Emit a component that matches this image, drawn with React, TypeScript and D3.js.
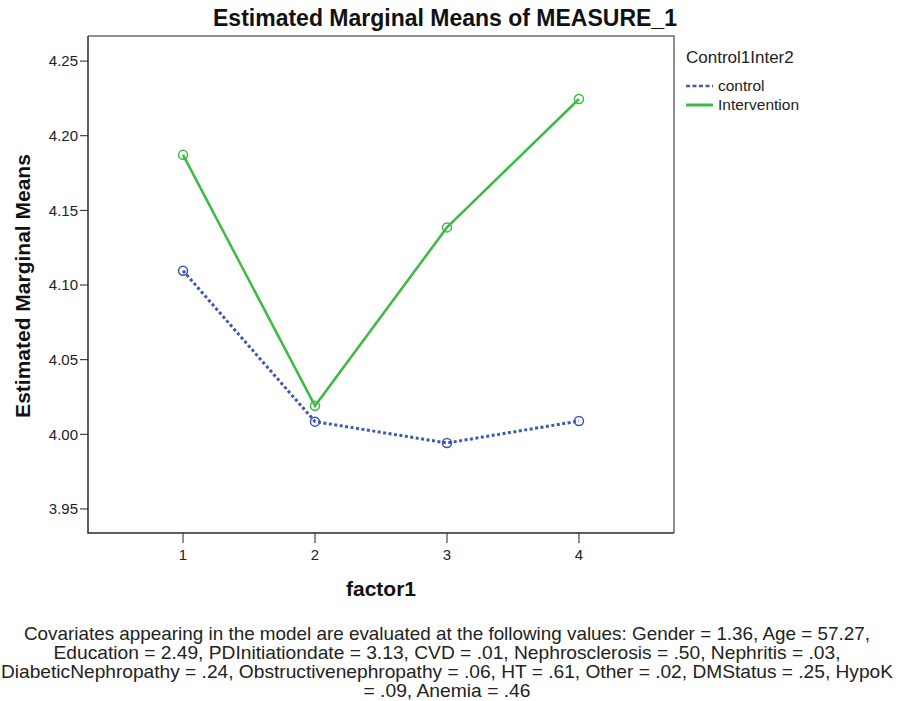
import React, { useEffect, useRef } from 'react';
import * as d3 from 'd3';

const factorLevels = [1, 2, 3, 4];
const controlMeans = [4.1096, 4.0085, 3.9942, 4.0089];
const interventionMeans = [4.1872, 4.0191, 4.1386, 4.2246];
const yTicks = [3.95, 4.0, 4.05, 4.1, 4.15, 4.2, 4.25];

const seriesNames = ['control', 'Intervention'];
const seriesColors = ['#3e58ac', '#3dba41'];

const footnote = [
  'Covariates appearing in the model are evaluated at the following values: Gender = 1.36, Age = 57.27,',
  'Education = 2.49, PDInitiationdate = 3.13, CVD = .01, Nephrosclerosis = .50, Nephritis = .03,',
  'DiabeticNephropathy = .24, Obstructivenephropathy = .06, HT = .61, Other = .02, DMStatus = .25, HypoK',
  '= .09, Anemia = .46',
];
// measured line widths of the footnote in the reference (narrow font)
const footnoteWidths = [846, 787, 892, 167];

export default function App() {
  const svgRef = useRef<SVGSVGElement>(null);

  useEffect(() => {
    if (!svgRef.current) return;
    const svg = d3.select(svgRef.current);
    svg.selectAll('*').remove();

    const width = 898;
    const height = 701;
    const plot = { left: 88, top: 36, right: 674, bottom: 533 };
    const font = 'Arial, "Liberation Sans", sans-serif';

    svg.attr('width', width).attr('height', height);

    const x = d3.scaleLinear().domain([0.28, 4.72]).range([plot.left, plot.right]);
    const y = d3.scaleLinear().domain([3.9339, 4.2668]).range([plot.bottom, plot.top]);

    // frame: top and right grey, left and bottom dark
    svg.append('path')
      .attr('d', `M${plot.left},${plot.top}H${plot.right}V${plot.bottom}`)
      .attr('fill', 'none')
      .attr('stroke', '#6b6b6b')
      .attr('stroke-width', 1.5);
    svg.append('path')
      .attr('d', `M${plot.left},${plot.top}V${plot.bottom}H${plot.right}`)
      .attr('fill', 'none')
      .attr('stroke', '#2a2a2a')
      .attr('stroke-width', 1.5);

    // y axis ticks
    const yAxis = svg.append('g');
    yTicks.forEach(t => {
      yAxis.append('line')
        .attr('x1', plot.left - 8).attr('x2', plot.left)
        .attr('y1', y(t)).attr('y2', y(t))
        .attr('stroke', '#222').attr('stroke-width', 1);
      yAxis.append('text')
        .attr('x', plot.left - 10).attr('y', y(t))
        .attr('dy', '0.35em')
        .attr('text-anchor', 'end')
        .attr('font-family', font).attr('font-size', 15)
        .attr('fill', '#222')
        .text(d3.format('.2f')(t));
    });

    // x axis ticks
    const xAxis = svg.append('g');
    factorLevels.forEach(v => {
      xAxis.append('line')
        .attr('x1', x(v)).attr('x2', x(v))
        .attr('y1', plot.bottom).attr('y2', plot.bottom + 10)
        .attr('stroke', '#222').attr('stroke-width', 1);
      xAxis.append('text')
        .attr('x', x(v)).attr('y', 560)
        .attr('text-anchor', 'middle')
        .attr('font-family', font).attr('font-size', 15)
        .attr('fill', '#222')
        .text(v);
    });

    // series lines
    const line = d3.line<number>()
      .x((_, i) => x(factorLevels[i]))
      .y(d => y(d));

    [controlMeans, interventionMeans].forEach((vals, si) => {
      svg.append('path')
        .datum(vals)
        .attr('fill', 'none')
        .attr('stroke', seriesColors[si])
        .attr('stroke-width', si === 0 ? 3 : 2.5)
        .attr('stroke-dasharray', si === 0 ? '3,2.5' : null)
        .attr('d', line);
      svg.selectAll(null)
        .data(vals)
        .join('circle')
        .attr('cx', (_, i) => x(factorLevels[i]))
        .attr('cy', d => y(d))
        .attr('r', 4.5)
        .attr('fill', 'none')
        .attr('stroke', seriesColors[si])
        .attr('stroke-width', 1.5);
    });

    // title
    svg.append('text')
      .attr('x', 445).attr('y', 26)
      .attr('text-anchor', 'middle')
      .attr('font-family', font).attr('font-size', 23).attr('font-weight', 'bold')
      .attr('fill', '#111')
      .text('Estimated Marginal Means of MEASURE_1');

    // axis titles
    svg.append('text')
      .attr('transform', `translate(30,286) rotate(-90)`)
      .attr('text-anchor', 'middle')
      .attr('font-family', font).attr('font-size', 21).attr('font-weight', 'bold')
      .attr('fill', '#111')
      .text('Estimated Marginal Means');
    svg.append('text')
      .attr('x', 381).attr('y', 596)
      .attr('text-anchor', 'middle')
      .attr('font-family', font).attr('font-size', 21).attr('font-weight', 'bold')
      .attr('fill', '#111')
      .text('factor1');

    // legend
    const legend = svg.append('g').attr('transform', 'translate(686,0)');
    legend.append('text')
      .attr('x', 0).attr('y', 63)
      .attr('font-family', font).attr('font-size', 17)
      .attr('fill', '#222')
      .text('Control1Inter2');
    seriesNames.forEach((name, i) => {
      const ly = 86 + i * 19;
      legend.append('line')
        .attr('x1', 0).attr('x2', 27)
        .attr('y1', ly).attr('y2', ly)
        .attr('stroke', seriesColors[i])
        .attr('stroke-width', i === 0 ? 2.5 : 3)
        .attr('stroke-dasharray', i === 0 ? '4,2.5' : null);
      legend.append('text')
        .attr('x', 32).attr('y', ly)
        .attr('dy', '0.35em')
        .attr('font-family', font).attr('font-size', 15.5)
        .attr('fill', '#222')
        .text(name);
    });

    // covariate footnote
    footnote.forEach((t, i) => {
      svg.append('text')
        .attr('x', 447).attr('y', 640 + i * 19)
        .attr('text-anchor', 'middle')
        .attr('font-family', '"Liberation Sans Narrow", "Arial Narrow", Arial, sans-serif')
        .attr('font-size', 19)
        .attr('textLength', footnoteWidths[i])
        .attr('lengthAdjust', 'spacingAndGlyphs')
        .attr('fill', '#222')
        .text(t);
    });
  }, []);

  return (
    <div style={{ position: 'absolute', left: 0, top: 0 }}>
      <svg ref={svgRef} style={{ display: 'block', background: '#fff' }} />
    </div>
  );
}
